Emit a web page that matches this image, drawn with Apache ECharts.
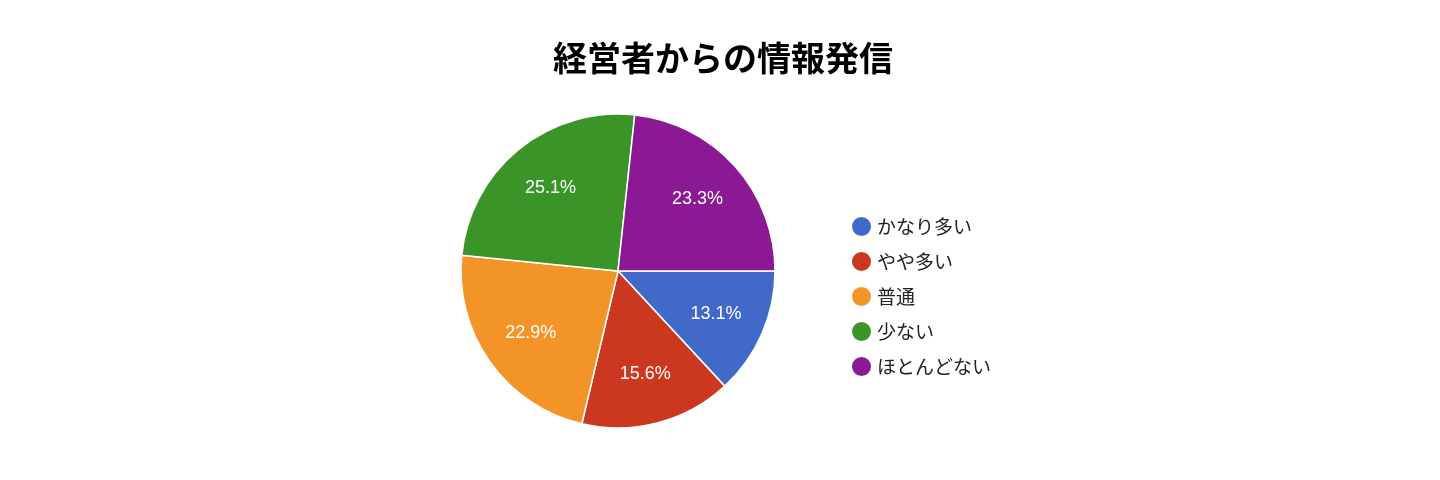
<!DOCTYPE html><html><head><meta charset="utf-8"><script src="https://cdn.jsdelivr.net/npm/echarts@6/dist/echarts.min.js"></script></head><body style="margin:0"><div id="c" style="width:1440px;height:480px"></div><script>
const categories=['かなり多い','やや多い','普通','少ない','ほとんどない'];
const values=[13.1,15.6,22.9,25.1,23.3];
const colors=['#4169c8','#cc3720','#f39428','#3a9427','#8b1994'];
const data=categories.map((n,i)=>({name:n,value:values[i]}));
const ch=echarts.init(document.getElementById('c'));
ch.setOption({
title:{text:'経営者からの情報発信',left:718,top:36,textAlign:'center',textStyle:{fontSize:34,fontWeight:'bold',color:'#000',fontFamily:'Noto Sans CJK JP'}},
color:colors,
legend:{data:categories,orient:'vertical',left:845,top:210,itemGap:12,icon:'circle',itemWidth:21,itemHeight:21,textStyle:{fontSize:19,color:'#222',fontFamily:'Noto Sans CJK JP'}},
series:[
{type:'pie',center:[618,271],radius:157,startAngle:0,clockwise:true,label:{show:false},itemStyle:{borderColor:'#fff',borderWidth:1.5},emphasis:{disabled:true},data:data},
{type:'pie',center:[618,271],radius:208,startAngle:0,clockwise:true,silent:true,itemStyle:{color:'rgba(0,0,0,0)'},label:{show:true,position:'inside',formatter:p=>p.value.toFixed(1)+'%',color:'#fff',fontSize:18,fontFamily:'Liberation Sans'},labelLine:{show:false},emphasis:{disabled:true},data:data}
]});
</script></body></html>
